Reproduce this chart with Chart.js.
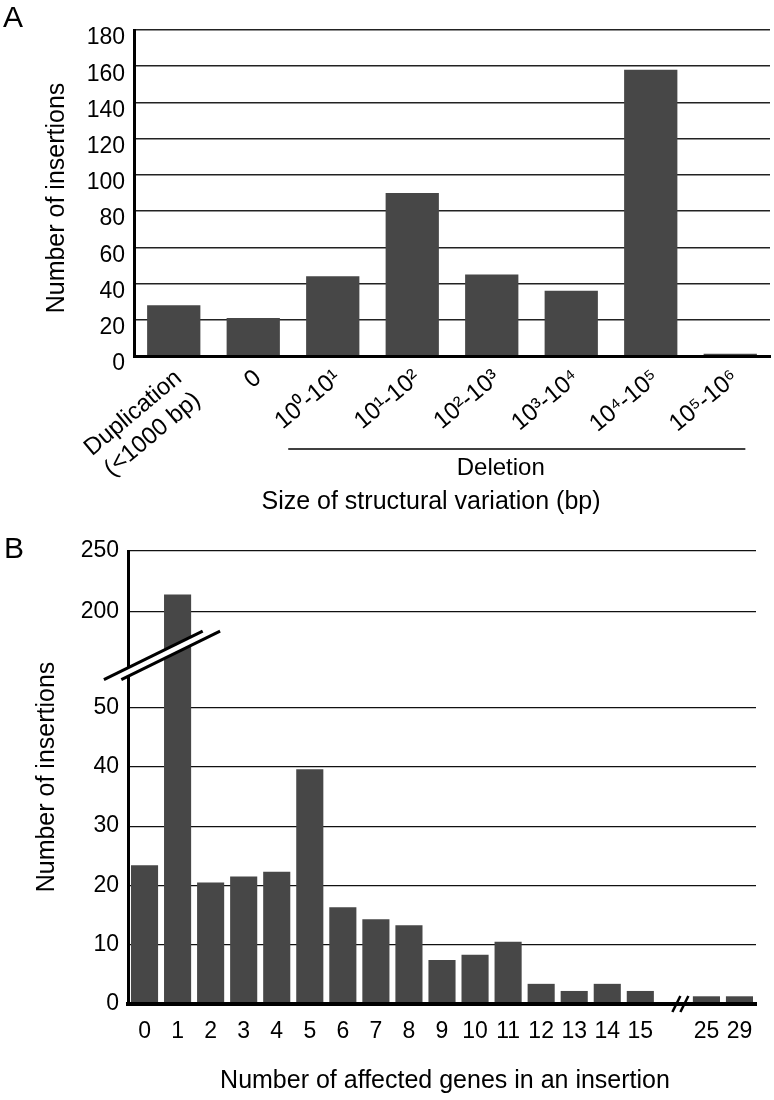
<!DOCTYPE html>
<html>
<head>
<meta charset="utf-8">
<script src="https://cdn.jsdelivr.net/npm/chart.js@4.4.0/dist/chart.umd.min.js"></script>
<style>
  html, body { margin: 0; padding: 0; background: #fff; }
  #wrapA { position: absolute; left: 0; top: 0; width: 774px; height: 520px; }
  #wrapB { position: absolute; left: 0; top: 520px; width: 774px; height: 580px; }
</style>
</head>
<body>
<div id="wrapA"><canvas id="chartA" width="774" height="520"></canvas></div>
<div id="wrapB"><canvas id="chartB" width="774" height="580"></canvas></div>
<script>
// panel A: size of structural variation
const sizeLabels = [["Duplication", "(<1000 bp)"], "0", "10⁰-10¹", "10¹-10²", "10²-10³", "10³-10⁴", "10⁴-10⁵", "10⁵-10⁶"];
const sizeCounts = [28, 21, 44, 90, 45, 36, 158, 1.3];
const sizeTicks = [0, 20, 40, 60, 80, 100, 120, 140, 160, 180];

// panel B: affected genes per insertion (y axis is broken between 50 and 200)
const geneLabels = ["0", "1", "2", "3", "4", "5", "6", "7", "8", "9", "10", "11", "12", "13", "14", "15", "", "25", "29"];
const geneCounts = [23.4, 214, 20.5, 21.5, 22.3, 39.6, 16.3, 14.3, 13.3, 7.4, 8.3, 10.5, 3.4, 2.2, 3.4, 2.2, null, 1.3, 1.3];
const geneTicks = [0, 10, 20, 30, 40, 50, 200, 250];

const FONT = "'Liberation Sans', Arial, sans-serif";
Chart.defaults.font.family = FONT;
Chart.defaults.color = "#000";

// values above the break are squeezed: 200 sits at 66.2, 250 at 76.4
function brokenAxis(v) {
    if (v === null) return null;
    return v <= 50 ? v : 66.2 + (v - 200) * 0.204;
}

const panelA = {
    id: "panelA",
    afterDraw(chart) {
        const ctx = chart.ctx;
        const x = chart.scales.x, y = chart.scales.y;
        ctx.save();
        ctx.fillStyle = "#000";
        ctx.strokeStyle = "#000";
        ctx.font = "30px " + FONT;
        ctx.textAlign = "left";
        ctx.textBaseline = "middle";
        ctx.fillText("A", 3, 19);

        ctx.save();
        ctx.translate(57, (y.top + y.bottom) / 2 + 5);
        ctx.rotate(-Math.PI / 2);
        ctx.font = "25px " + FONT;
        ctx.textAlign = "center";
        ctx.fillText("Number of insertions", 0, 0);
        ctx.restore();

        const step = x.getPixelForValue(1) - x.getPixelForValue(0);
        const x1 = x.getPixelForValue(2) - step * 0.56;
        const x2 = x.getPixelForValue(7) + step * 0.19;
        ctx.lineWidth = 1.5;
        ctx.beginPath();
        ctx.moveTo(x1, 449);
        ctx.lineTo(x2, 449);
        ctx.stroke();

        ctx.textAlign = "center";
        ctx.font = "24px " + FONT;
        ctx.fillText("Deletion", (x1 + x2) / 2 - 16, 468);
        ctx.font = "25px " + FONT;
        ctx.fillText("Size of structural variation (bp)", 431, 502);
        ctx.restore();
    }
};

const panelB = {
    id: "panelB",
    afterDraw(chart) {
        const ctx = chart.ctx;
        const x = chart.scales.x, y = chart.scales.y;
        ctx.save();
        ctx.fillStyle = "#000";
        ctx.font = "30px " + FONT;
        ctx.textAlign = "left";
        ctx.textBaseline = "middle";
        ctx.fillText("B", 4, 30);

        ctx.save();
        ctx.translate(47, 257);
        ctx.rotate(-Math.PI / 2);
        ctx.font = "25px " + FONT;
        ctx.textAlign = "center";
        ctx.fillText("Number of insertions", 0, 0);
        ctx.restore();

        ctx.textAlign = "center";
        ctx.font = "25px " + FONT;
        ctx.fillText("Number of affected genes in an insertion", (x.left + x.right) / 2 + 3, 561);

        // y axis break marks
        const cx = x.left + 34, cy = y.getPixelForValue(58.8);
        const ux = 0.898 * 55, uy = -0.441 * 55;
        const a = [cx - 8.7, cy], b = [cx + 8.7, cy];
        ctx.fillStyle = "#fff";
        ctx.beginPath();
        ctx.moveTo(a[0] - ux, a[1] - uy);
        ctx.lineTo(a[0] + ux, a[1] + uy);
        ctx.lineTo(b[0] + ux, b[1] + uy);
        ctx.lineTo(b[0] - ux, b[1] - uy);
        ctx.closePath();
        ctx.fill();
        ctx.strokeStyle = "#000";
        ctx.lineWidth = 3;
        [a, b].forEach(m => {
            ctx.beginPath();
            ctx.moveTo(m[0] - ux, m[1] - uy);
            ctx.lineTo(m[0] + ux, m[1] + uy);
            ctx.stroke();
        });

        // x axis break marks
        const bx = x.getPixelForValue(16) + 7, by = y.bottom;
        ctx.lineWidth = 2.5;
        [-4, 4].forEach(d => {
            ctx.beginPath();
            ctx.moveTo(bx + d - 4, by + 8);
            ctx.lineTo(bx + d + 4, by - 8);
            ctx.stroke();
        });
        ctx.restore();
    }
};

new Chart(document.getElementById("chartA").getContext("2d"), {
    type: "bar",
    data: {
        labels: sizeLabels,
        datasets: [{
            data: sizeCounts,
            backgroundColor: "#474747",
            barPercentage: 0.67,
            categoryPercentage: 1
        }]
    },
    options: {
        responsive: false,
        animation: false,
        layout: { padding: { top: 30, right: 4, bottom: 0, left: 0 } },
        plugins: { legend: { display: false }, tooltip: { enabled: false } },
        scales: {
            x: {
                grid: { display: false },
                border: { display: true, color: "#000", width: 3, z: 1 },
                ticks: {
                    font: { size: 24 },
                    color: "#000",
                    minRotation: 40,
                    maxRotation: 40,
                    autoSkip: false,
                    padding: 0,
                    labelOffset: 5
                },
                afterFit: s => { s.height = 164; }
            },
            y: {
                min: 0,
                max: 180,
                afterBuildTicks: s => { s.ticks = sizeTicks.map(v => ({ value: v })); },
                grid: { color: "#222", lineWidth: 1.5, drawTicks: false },
                border: { display: true, color: "#000", width: 3, z: 1 },
                ticks: { font: { size: 23 }, color: "#000", padding: 9, labelOffset: 8 },
                afterFit: s => { s.width = 134; }
            }
        }
    },
    plugins: [panelA]
});

new Chart(document.getElementById("chartB").getContext("2d"), {
    type: "bar",
    data: {
        labels: geneLabels,
        datasets: [{
            data: geneCounts.map(brokenAxis),
            backgroundColor: "#474747",
            barPercentage: 0.82,
            categoryPercentage: 1
        }]
    },
    options: {
        responsive: false,
        animation: false,
        layout: { padding: { top: 31, right: 18, bottom: 0, left: 0 } },
        plugins: { legend: { display: false }, tooltip: { enabled: false } },
        scales: {
            x: {
                grid: { display: false },
                border: { display: true, color: "#000", width: 4, z: 1 },
                ticks: { font: { size: 23 }, color: "#000", maxRotation: 0, autoSkip: false, padding: 6 },
                afterFit: s => { s.height = 96; }
            },
            y: {
                min: 0,
                max: brokenAxis(250),
                afterBuildTicks: s => { s.ticks = geneTicks.map(v => ({ value: brokenAxis(v) })); },
                grid: { color: "#111", lineWidth: 1.2, drawTicks: false },
                border: { display: true, color: "#000", width: 3, z: 1 },
                ticks: {
                    font: { size: 23 },
                    color: "#000",
                    padding: 9,
                    callback: (value, index) => geneTicks[index]
                },
                afterFit: s => { s.width = 128; }
            }
        }
    },
    plugins: [panelB]
});
</script>
</body>
</html>
